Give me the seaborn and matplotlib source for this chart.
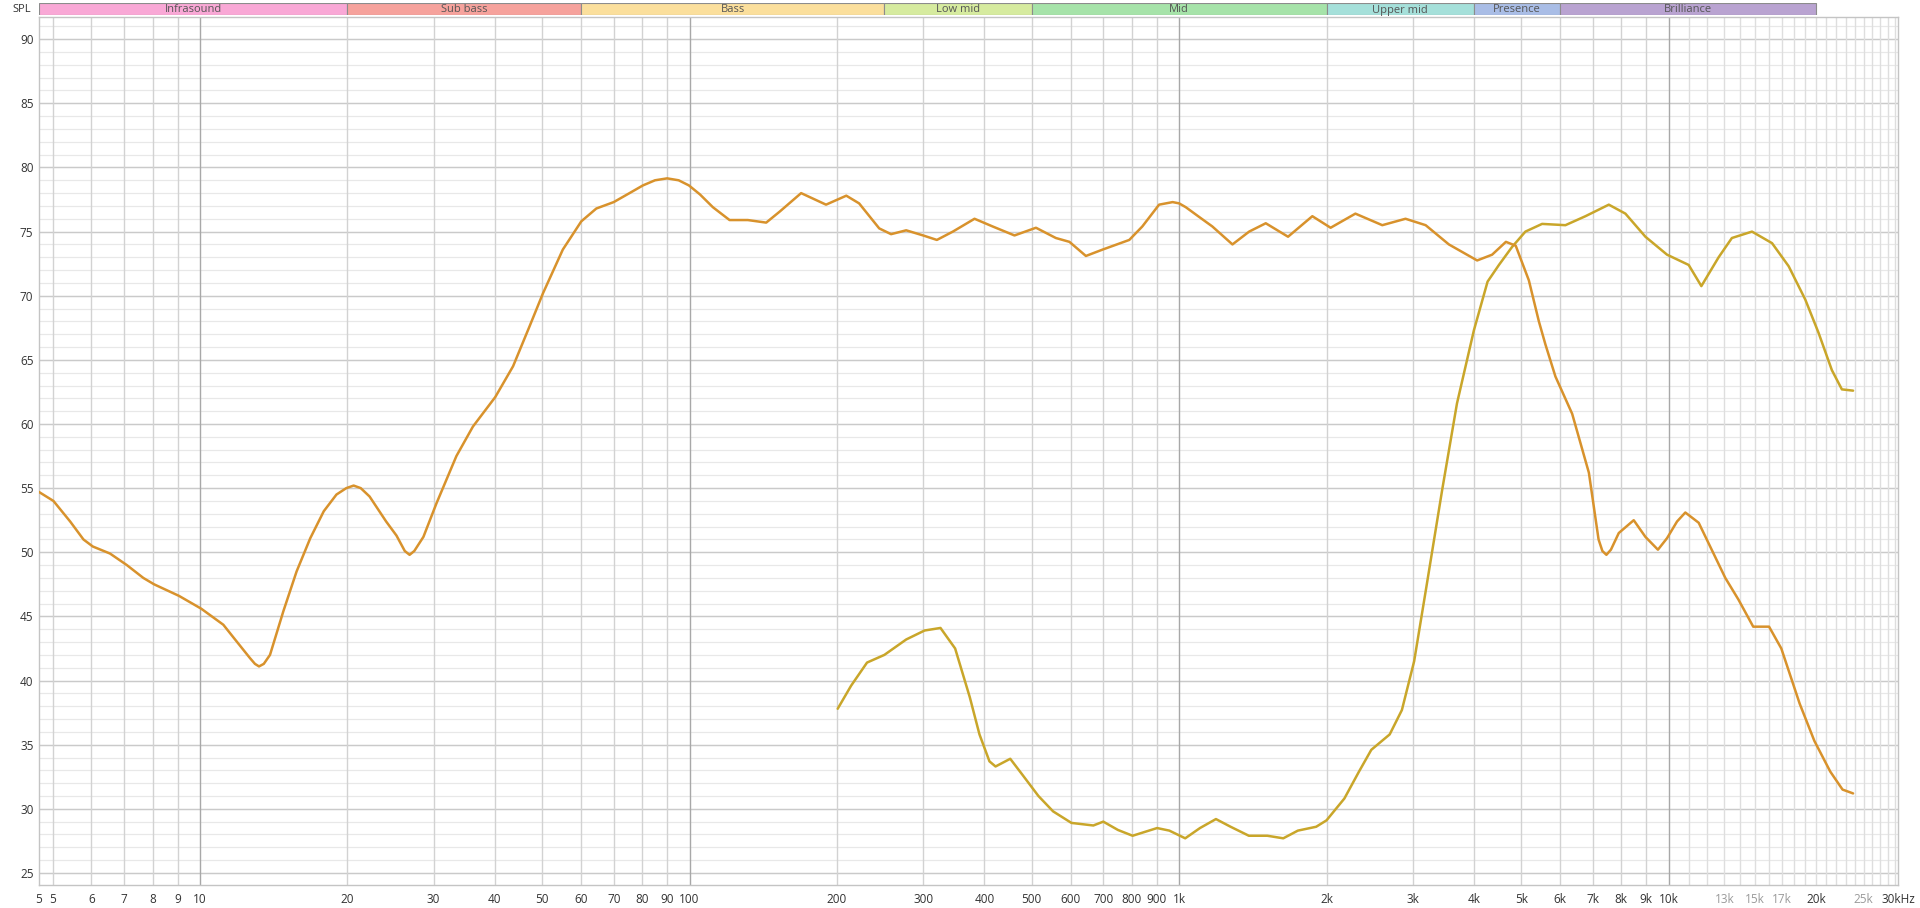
import numpy as np
import pandas as pd
import matplotlib
matplotlib.use('Agg')
from matplotlib import pyplot as plt
import seaborn as sns

# frequency response (Hz, dB SPL)
curve_a_freq = [4.69, 5.02, 5.43, 5.78, 6.04, 6.55, 7.09, 7.66, 8.06, 9.06, 10.06, 11.16, 11.88, 12.65,
                12.95, 13.2, 13.5, 13.9, 14.8, 15.75, 16.8, 17.9, 19.0, 19.9, 20.6, 21.3, 22.2, 24.0, 25.2,
                26.2, 26.8, 27.4, 28.6, 30.4, 33.4, 36.1, 40.1, 43.6, 47.1, 50.2, 55.1, 60.1, 64.5, 70.0,
                75.4, 80.3, 85.0, 90.0, 95.0, 99.7, 105, 111.6, 120.7, 131.5, 143.4, 152.7, 169, 190, 209,
                222, 244, 258, 277, 300, 320, 345, 382, 416, 461, 510, 560, 597, 645, 698, 791, 841, 910,
                970, 1000, 1032, 1098, 1169, 1285, 1390, 1503, 1669, 1871, 2039, 2291, 2600, 2900, 3188,
                3556, 4062, 4358, 4650, 4870, 5180, 5430, 5600, 5870, 6350, 6870, 7190, 7320, 7460, 7620,
                7907, 8483, 8962, 9506, 9922, 10400, 10813, 11515, 13050, 13887, 14880, 16032, 16982,
                18513, 19836, 21380, 22650, 23800]
curve_a_db = [54.7, 54.0, 52.4, 51.0, 50.45, 49.9, 49.0, 48.0, 47.5, 46.6, 45.6, 44.35, 43.05, 41.75,
              41.3, 41.1, 41.3, 42.0, 45.4, 48.5, 51.1, 53.2, 54.5, 55.0, 55.2, 55.0, 54.35, 52.4, 51.3,
              50.1, 49.8, 50.1, 51.2, 53.8, 57.5, 59.8, 62.1, 64.5, 67.6, 70.2, 73.6, 75.8, 76.8, 77.3,
              78.0, 78.6, 79.0, 79.15, 79.0, 78.6, 77.9, 76.9, 75.9, 75.9, 75.7, 76.55, 78.0, 77.1, 77.8,
              77.2, 75.25, 74.8, 75.1, 74.7, 74.35, 75.0, 76.0, 75.4, 74.7, 75.3, 74.5, 74.2, 73.1, 73.6,
              74.35, 75.4, 77.1, 77.3, 77.2, 76.9, 76.15, 75.4, 74.0, 75.0, 75.65, 74.6, 76.2, 75.3,
              76.4, 75.5, 76.0, 75.5, 74.0, 72.75, 73.2, 74.2, 73.9, 71.2, 68.0, 66.2, 63.7, 60.8, 56.2,
              51.0, 50.1, 49.8, 50.2, 51.5, 52.5, 51.2, 50.2, 51.1, 52.4, 53.1, 52.3, 48.0, 46.3, 44.2,
              44.2, 42.5, 38.2, 35.3, 32.9, 31.5, 31.2]

curve_b_freq = [200.7, 213.8, 230.4, 250, 277, 302, 325.5, 348.7, 373.6, 391, 409.8, 421.7, 451.9, 478.6,
                515.9, 552.8, 602.6, 668, 700, 750, 803.5, 901.6, 955, 1029, 1103, 1189, 1274, 1388, 1514,
                1632, 1748, 1905, 2000, 2175, 2330, 2469, 2692, 2851, 3020, 3199, 3447, 3694, 4000, 4266,
                4500, 4786, 5097, 5513, 6152, 6760, 7545, 8158, 8962, 9922, 10985, 11660, 12647, 13460,
                14795, 16256, 17580, 19010, 20237, 21540, 22580, 23800]
curve_b_db = [37.8, 39.6, 41.4, 42.0, 43.2, 43.9, 44.1, 42.5, 38.7, 35.8, 33.7, 33.3, 33.9, 32.65,
              31.0, 29.8, 28.9, 28.7, 29.0, 28.35, 27.9, 28.5, 28.3, 27.7, 28.5, 29.2, 28.6, 27.9, 27.9,
              27.7, 28.3, 28.6, 29.1, 30.8, 32.9, 34.6, 35.8, 37.7, 41.5, 47.3, 54.9, 61.6, 67.3, 71.1,
              72.4, 73.8, 75.0, 75.6, 75.5, 76.2, 77.1, 76.4, 74.6, 73.2, 72.4, 70.75, 73.0, 74.5,
              75.0, 74.1, 72.3, 69.7, 67.1, 64.2, 62.7, 62.6]

# frequency bands on top
band_names = ['Infrasound', 'Sub bass', 'Bass', 'Low mid', 'Mid', 'Upper mid', 'Presence', 'Brilliance']
band_edges = [4.69, 20, 60, 250, 500, 2000, 4000, 6000, 20000]
band_colors = ['#f9a8d6', '#f6a29c', '#fbdf9c', '#d6eb9f', '#a6e3a9', '#a5e0da', '#a9bde6', '#b9a3d1']

x_ticks = [4.69, 5, 6, 7, 8, 9, 10, 20, 30, 40, 50, 60, 70, 80, 90, 100, 200, 300, 400, 500, 600, 700,
           800, 900, 1000, 2000, 3000, 4000, 5000, 6000, 7000, 8000, 9000, 10000, 13000, 15000, 17000,
           20000, 25000, 29400]
x_labels = ['5', '5', '6', '7', '8', '9', '10', '20', '30', '40', '50', '60', '70', '80', '90', '100',
            '200', '300', '400', '500', '600', '700', '800', '900', '1k', '2k', '3k', '4k', '5k', '6k',
            '7k', '8k', '9k', '10k', '13k', '15k', '17k', '20k', '25k', '30kHz']
faint_labels = ['13k', '15k', '17k', '25k']
y_ticks = list(range(25, 95, 5))

sns.set_style('white')
plt.rcParams['font.family'] = ['Open Sans', 'DejaVu Sans']

fig = plt.figure(figsize=(19.2, 9.08), dpi=100)
left, right = 39 / 1920, 1898 / 1920
bottom, top = 1 - 885 / 908, 1 - 17 / 908
ax = fig.add_axes([left, bottom, right - left, top - bottom])
ax.set_xscale('log')
ax.set_xlim(4.69, 29400)
ax.set_ylim(24.06, 91.73)

# grid
for v in np.arange(24, 92):
    ax.axhline(v, color='#e8e8e8', lw=0.9, zorder=0)
for v in range(25, 95, 5):
    ax.axhline(v, color='#cacaca', lw=1.0, zorder=0)
minor = [5, 6, 7, 8, 9, 20, 30, 40, 50, 60, 70, 80, 90, 200, 300, 400, 500, 600, 700, 800, 900,
         2000, 3000, 4000, 5000, 6000, 7000, 8000, 9000]
for v in minor:
    ax.axvline(v, color='#d2d2d2', lw=1.0, zorder=0)
for v in range(11000, 30000, 1000):
    ax.axvline(v, color='#dedede', lw=1.0, zorder=0)
for v in [10, 100, 1000, 10000]:
    ax.axvline(v, color='#a8a8a8', lw=1.0, zorder=0)

df_a = pd.DataFrame({'freq': curve_a_freq, 'spl': curve_a_db})
df_b = pd.DataFrame({'freq': curve_b_freq, 'spl': curve_b_db})
sns.lineplot(data=df_b, x='freq', y='spl', ax=ax, color='#c9a62a', lw=1.8, estimator=None, zorder=3,
             solid_joinstyle='round')
sns.lineplot(data=df_a, x='freq', y='spl', ax=ax, color='#d8922c', lw=1.8, estimator=None, zorder=4,
             solid_joinstyle='round')

ax.set_xlabel('')
ax.set_ylabel('')
ax.set_xticks(x_ticks)
ax.set_xticklabels(x_labels)
ax.xaxis.set_minor_locator(matplotlib.ticker.NullLocator())
ax.set_yticks(y_ticks)
ax.tick_params(axis='both', length=0, labelsize=8.5, colors='#333333')
ax.tick_params(axis='x', pad=6)
ax.tick_params(axis='y', pad=4)
for lbl in ax.get_xticklabels():
    if lbl.get_text() in faint_labels:
        lbl.set_color('#9a9a9a')
for s in ax.spines.values():
    s.set_color('#c4c4c4')
    s.set_linewidth(1.0)

# band strip
band_ax = fig.add_axes([left, 1 - 15 / 908, right - left, 12.5 / 908])
band_ax.set_xscale('log')
band_ax.set_xlim(4.69, 29400)
band_ax.set_ylim(0, 1)
band_ax.axis('off')
for name, lo, hi, c in zip(band_names, band_edges[:-1], band_edges[1:], band_colors):
    band_ax.axvspan(lo, hi, color=c, ec='#8c8c8c', lw=0.8)
    band_ax.text(np.sqrt(lo * hi), 0.4, name, ha='center', va='center', fontsize=8, color='#555555')

fig.text(22 / 1920, 1 - 9 / 908, 'SPL', ha='center', va='center', fontsize=8, color='#333333')

plt.savefig('out.png', dpi=100)
